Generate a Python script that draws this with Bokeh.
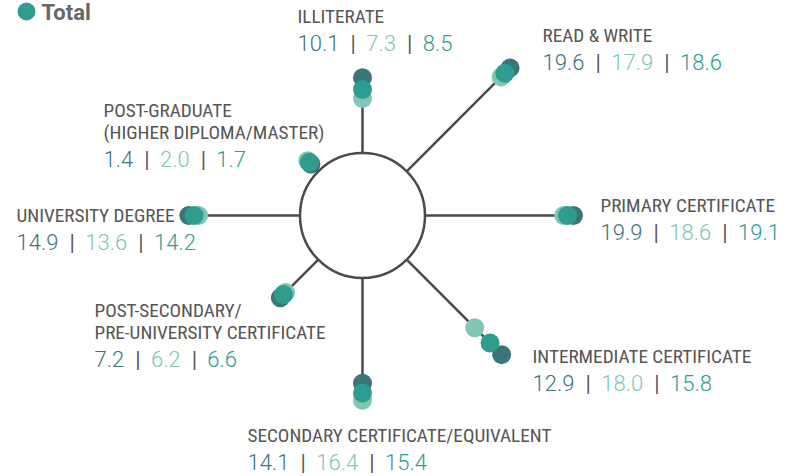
import math
from bokeh.plotting import figure
from bokeh.models import Range1d
from bokeh.core.properties import value
from bokeh.embed import file_html
from bokeh.resources import INLINE

# ---------------- data ----------------
categories = [
    ["ILLITERATE"],
    ["READ & WRITE"],
    ["PRIMARY CERTIFICATE"],
    ["INTERMEDIATE CERTIFICATE"],
    ["SECONDARY CERTIFICATE/EQUIVALENT"],
    ["POST-SECONDARY/", "PRE-UNIVERSITY CERTIFICATE"],
    ["UNIVERSITY DEGREE"],
    ["POST-GRADUATE", "(HIGHER DIPLOMA/MASTER)"],
]
male = [10.1, 19.6, 19.9, 12.9, 14.1, 7.2, 14.9, 1.4]
female = [7.3, 17.9, 18.6, 18.0, 16.4, 6.2, 13.6, 2.0]
total = [8.5, 18.6, 19.1, 15.8, 15.4, 6.6, 14.2, 1.7]

# ---------------- layout / style ----------------
spoke_angle = [90, 45, 0, -45, -90, -135, 180, 135]   # degrees
label_anchor = [(297, 23), (542, 42), (600, 212), (532, 363),
                (247, 442), (94, 317), (16, 222), (103, 117)]
swap_colors = [False, False, False, True, False, False, False, False]  # as drawn in the original
TEXT_DY = -7.5     # baseline correction for the svg text renderer

CX, CY = 362, 215
R0 = 62.5          # radius of the centre circle
K = 7.46           # px per percentage point
DOT = 19

C_DARK = "#3b7479"
C_LIGHT = "#80c5b6"
C_MID = "#2e9c8f"
C_LINE = "#4a4a4a"
C_LABEL = "#555555"
C_BAR = "#5a5a5a"

LABEL_FONT = value("'Liberation Sans Narrow', 'Roboto Condensed', Roboto")
NUM_FONT = value("'Roboto Light', Roboto")
LABEL_SIZE = 19.2
NUM_SIZE = 22

W, H = 800, 476
p = figure(width=W, height=H, output_backend="svg", toolbar_location=None,
           x_range=Range1d(0, W), y_range=Range1d(H, 0),
           min_border=0)
p.axis.visible = False
p.grid.visible = False
p.outline_line_color = None
p.background_fill_color = "white"
p.border_fill_color = "white"


def pos(i, v):
    a = math.radians(spoke_angle[i])
    r = R0 + K * v
    return CX + r * math.cos(a), CY - r * math.sin(a)


# spokes
x0s, y0s, x1s, y1s = [], [], [], []
for i in range(len(categories)):
    a = math.radians(spoke_angle[i])
    x0s.append(CX + R0 * math.cos(a))
    y0s.append(CY - R0 * math.sin(a))
    x1, y1 = pos(i, max(male[i], female[i], total[i]))
    x1s.append(x1)
    y1s.append(y1)
p.segment(x0=x0s, y0=y0s, x1=x1s, y1=y1s, line_color=C_LINE, line_width=2.5)

# centre circle
p.circle(x=[CX], y=[CY], radius=R0, fill_color="white", line_color=C_LINE, line_width=2.5)

# dots
dx, dy, dc = [], [], []
for i in range(len(categories)):
    cm, cf = (C_LIGHT, C_DARK) if swap_colors[i] else (C_DARK, C_LIGHT)
    for v, c in ((female[i], cf), (male[i], cm)):
        x, y = pos(i, v)
        dx.append(x); dy.append(y); dc.append(c)
p.scatter(x=dx, y=dy, size=DOT, fill_color=dc, line_color=None)
tx, ty = zip(*[pos(i, total[i]) for i in range(len(categories))])
p.scatter(x=list(tx), y=list(ty), size=DOT, fill_color=C_MID, line_color=None)

# labels
lx, ly, lt = [], [], []
for i, lines in enumerate(categories):
    x, y = label_anchor[i]
    for j, line in enumerate(lines):
        lx.append(x); ly.append(y + 22 * j + TEXT_DY); lt.append(line)
p.text(x=lx, y=ly, text=lt, text_font=LABEL_FONT, text_font_size=f"{LABEL_SIZE}px",
       text_color=C_LABEL, text_baseline="alphabetic", text_align="left")

# value lines
CHW = {".": 0.26, " ": 0.25}


def width(s):
    return sum(CHW.get(ch, 0.5615) for ch in s) * NUM_SIZE


nx, ny, nt, nc = [], [], [], []
bx, by = [], []
for i, lines in enumerate(categories):
    x, y = label_anchor[i]
    yv = y + 22 * (len(lines) - 1) + 27 + TEXT_DY
    cur = x
    vals = [(male[i], C_DARK), (female[i], C_LIGHT), (total[i], C_MID)]
    for k, (v, c) in enumerate(vals):
        s = f"{v:.1f}"
        nx.append(cur); ny.append(yv); nt.append(s); nc.append(c)
        cur += width(s)
        if k < 2:
            bx.append(cur + 13); by.append(yv)
            cur += 26
p.text(x=nx, y=ny, text=nt, text_color=nc, text_font=NUM_FONT, text_font_size=f"{NUM_SIZE}px",
       text_baseline="alphabetic", text_align="left")
p.text(x=bx, y=by, text=["|"] * len(bx), text_color=C_BAR, text_font=value("Roboto"),
       text_font_size=f"{NUM_SIZE}px", text_baseline="alphabetic", text_align="center")

# legend (Total)
p.scatter(x=[26], y=[11], size=18, fill_color=C_MID, line_color=None)
p.text(x=[41], y=[19 + TEXT_DY], text=["Total"], text_font=value("Roboto"), text_font_size="22px",
       text_font_style="bold", text_color="#666666", text_baseline="alphabetic")

open("out.html", "w").write(file_html(p, INLINE))
